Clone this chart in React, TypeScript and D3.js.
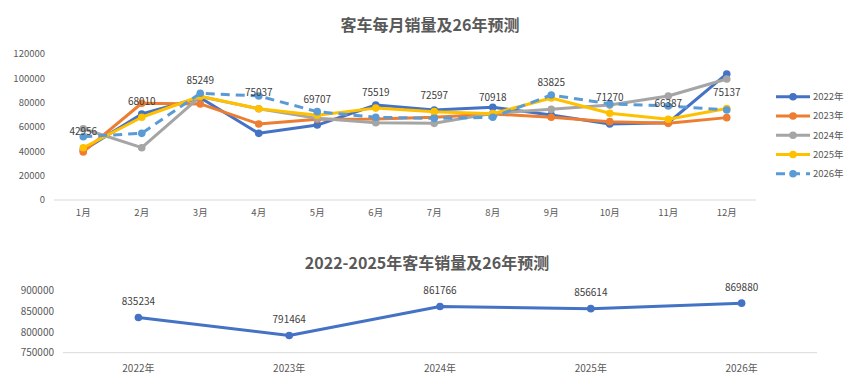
import React from "react";
import * as d3 from "d3";

const months = ["1月", "2月", "3月", "4月", "5月", "6月", "7月", "8月", "9月", "10月", "11月", "12月"];
const s2022 = [41000, 70700, 84000, 54800, 61600, 78100, 74000, 76200, 69900, 62500, 63500, 103600];
const s2023 = [39500, 79500, 79000, 62500, 66300, 66500, 68000, 70700, 68000, 64400, 63000, 67700];
const s2024 = [58600, 43000, 85000, 75000, 67100, 63500, 63000, 71200, 74500, 78000, 85500, 99500];
const s2025 = [42956, 68010, 85249, 75037, 69707, 75519, 72597, 70918, 83825, 71270, 66387, 75137];
const s2026 = [52000, 54800, 87700, 85500, 72600, 68000, 67100, 68000, 86300, 79000, 77300, 74000];
const seriesNames = ["2022年", "2023年", "2024年", "2025年", "2026年"];
const seriesColors = ["#4472C4", "#ED7D31", "#A5A5A5", "#FFC000", "#5B9BD5"];
const yTicksTop = [0, 20000, 40000, 60000, 80000, 100000, 120000];

const years = ["2022年", "2023年", "2024年", "2025年", "2026年"];
const yearTotals = [835234, 791464, 861766, 856614, 869880];
const yTicksBottom = [750000, 800000, 850000, 900000];

const FONT = "'Noto Sans CJK SC', 'Noto Sans', sans-serif";

export default function App() {
  const W = 865, H = 385;
  const allSeries = [s2022, s2023, s2024, s2025, s2026];

  const x = d3.scaleBand<string>().domain(months).range([54, 756]);
  const cx = (m: string) => (x(m) as number) + x.bandwidth() / 2;
  const y = d3.scaleLinear().domain([0, 120000]).range([200, 54]);
  const line = d3.line<number>().x((_, i) => cx(months[i])).y((d) => y(d));

  const xb = d3.scaleBand<string>().domain(years).range([63, 817]);
  const cxb = (m: string) => (xb(m) as number) + xb.bandwidth() / 2;
  const yb = d3.scaleLinear().domain([750000, 900000]).range([352.7, 290.7]);
  const lineB = d3.line<number>().x((_, i) => cxb(years[i])).y((d) => yb(d));

  return (
    <svg width={W} height={H} style={{ position: "absolute", left: 0, top: 0, background: "#fff" }} fontFamily={FONT}>
      <rect x={0} y={0} width={W} height={H} fill="#fff" />
      {/* Top chart */}
      <text x={430} y={31} textAnchor="middle" fontSize={16} fontWeight="bold" fill="#595959">客车每月销量及26年预测</text>
      {yTicksTop.map((t) => (
        <text key={t} x={45} y={y(t)} dy="0.35em" textAnchor="end" fontSize={9.5} fill="#595959">{t}</text>
      ))}
      <line x1={54} x2={756} y1={y(0)} y2={y(0)} stroke="#D9D9D9" strokeWidth={1} />
      {months.map((m) => (
        <text key={m} x={cx(m)} y={213} dy="0.35em" textAnchor="middle" fontSize={9.5} fill="#595959">{m}</text>
      ))}
      {allSeries.map((s, si) => (
        <g key={si}>
          <path d={line(s) as string} fill="none" stroke={seriesColors[si]} strokeWidth={3}
            strokeDasharray={si === 4 ? "9,6" : undefined} strokeLinejoin="round" />
          {s.map((v, i) => (
            <circle key={i} cx={cx(months[i])} cy={y(v)} r={3.8} fill={seriesColors[si]} />
          ))}
        </g>
      ))}
      {s2025.map((v, i) => (
        <text key={i} x={cx(months[i])} y={y(v) - 16} dy="0.35em" textAnchor="middle" fontSize={10} fill="#404040">{v}</text>
      ))}
      {seriesNames.map((n, i) => {
        const ly = 96.7 + i * 19.25;
        return (
          <g key={n}>
            <line x1={776} x2={810} y1={ly} y2={ly} stroke={seriesColors[i]} strokeWidth={3}
              strokeDasharray={i === 4 ? "9,6" : undefined} />
            <circle cx={793} cy={ly} r={3.8} fill={seriesColors[i]} />
            <text x={813} y={ly} dy="0.35em" fontSize={9.5} fill="#595959">{n}</text>
          </g>
        );
      })}

      {/* Bottom chart */}
      <text x={427} y={269} textAnchor="middle" fontSize={16} fontWeight="bold" fill="#595959">2022-2025年客车销量及26年预测</text>
      {yTicksBottom.map((t) => (
        <text key={t} x={54} y={yb(t)} dy="0.35em" textAnchor="end" fontSize={10} fill="#595959">{t}</text>
      ))}
      <line x1={63} x2={817} y1={yb(750000)} y2={yb(750000)} stroke="#D9D9D9" strokeWidth={1} />
      {years.map((m) => (
        <text key={m} x={cxb(m)} y={368} dy="0.35em" textAnchor="middle" fontSize={10} fill="#595959">{m}</text>
      ))}
      <path d={lineB(yearTotals) as string} fill="none" stroke="#4472C4" strokeWidth={3} strokeLinejoin="round" />
      {yearTotals.map((v, i) => (
        <g key={i}>
          <circle cx={cxb(years[i])} cy={yb(v)} r={3.8} fill="#4472C4" />
          <text x={cxb(years[i])} y={yb(v) - 16} dy="0.35em" textAnchor="middle" fontSize={10} fill="#404040">{v}</text>
        </g>
      ))}
    </svg>
  );
}
